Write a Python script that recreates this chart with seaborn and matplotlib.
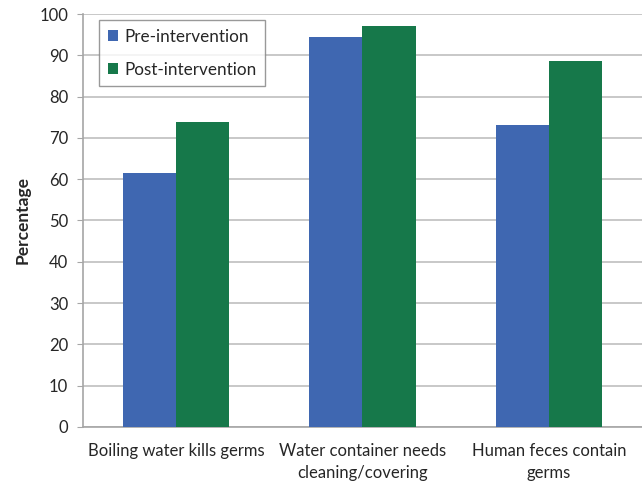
import pandas as pd
import matplotlib.pyplot as plt
import seaborn as sns

# 数据
categories = ['Boiling water kills germs', 'Water container needs\ncleaning/covering',
              'Human feces contain\ngerms']
pre_values = [61.5, 94.4, 73.1]
post_values = [73.8, 97.1, 88.6]
series_names = ['Pre-intervention', 'Post-intervention']

df = pd.DataFrame({
    'category': categories * 2,
    'value': pre_values + post_values,
    'series': [series_names[0]] * 3 + [series_names[1]] * 3,
})

sns.set_style('white')
plt.rcParams['font.family'] = ['Lato', 'DejaVu Sans']

fig = plt.figure(figsize=(6.42, 4.83), dpi=100)
ax = fig.add_axes([0.129, 0.116, 0.871, 0.855])

sns.barplot(data=df, x='category', y='value', hue='series',
            palette=['#3F67B1', '#16784A'], width=0.57, gap=0,
            saturation=1, linewidth=0, ax=ax, zorder=3)

ax.set_ylim(0, 100)
ax.set_yticks(range(0, 101, 10))
ax.set_xlim(-0.5, 2.5)
ax.yaxis.grid(True, color='#BFBFBF', linewidth=1.2, zorder=0)
ax.set_axisbelow(True)
for s in ['top', 'right']:
    ax.spines[s].set_visible(False)
for s in ['left', 'bottom']:
    ax.spines[s].set_color('#A6A6A6')
    ax.spines[s].set_linewidth(1.2)
ax.tick_params(axis='y', labelsize=12, left=True, length=4.5, color='#A6A6A6', pad=6)
ax.tick_params(axis='x', labelsize=12, bottom=False, pad=8)
for t in ax.get_xticklabels():
    t.set_linespacing(1.45)
ax.set_xlabel('')
ax.set_ylabel('Percentage', fontsize=12.5, fontweight='bold', labelpad=6)

leg = ax.legend(loc='upper left', bbox_to_anchor=(0.029, 0.985), fontsize=12.3,
                frameon=True, fancybox=False, edgecolor='#808080',
                handlelength=0.6, handleheight=0.6, handletextpad=0.4,
                labelspacing=1.0, borderpad=0.5, borderaxespad=0)
leg.get_frame().set_linewidth(1.0)

fig.savefig('out.png', dpi=100)
